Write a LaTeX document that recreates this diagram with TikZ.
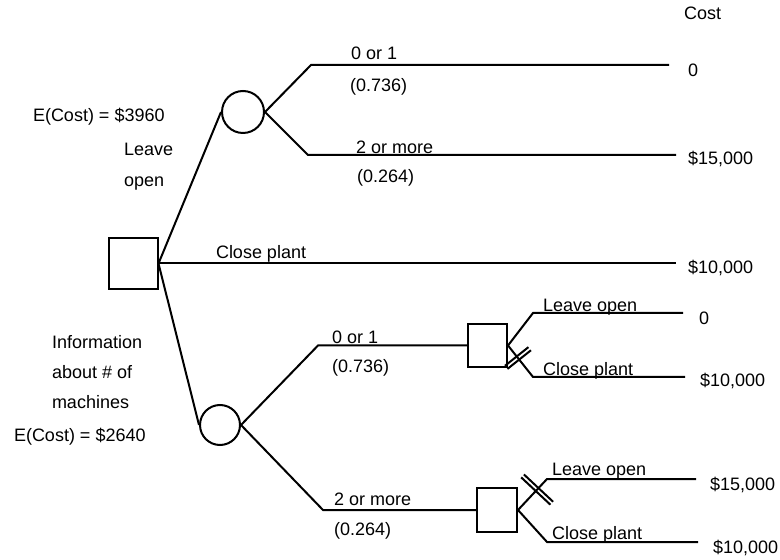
\documentclass[tikz,border=0pt]{standalone}
\usepackage{fontspec}
\setmainfont{Liberation Sans}
\usetikzlibrary{decorations.markings}

\begin{document}
\begin{tikzpicture}[x=0.5pt,y=-0.5pt,line width=1pt,
  txt/.style={anchor=west,inner sep=0pt,font=\fontsize{9}{11}\selectfont,text height=6.5pt,text depth=0pt},
  choice/.style={draw,rectangle,inner sep=0pt},
  chance/.style={draw,circle,inner sep=0pt},
  blocked/.style 2 args={postaction={decorate},decoration={markings,mark=at position #1 with
    {\draw (-1pt,-#2) -- (-1pt,#2) (1pt,-#2) -- (1pt,#2);}}}]
\useasboundingbox (0,0) rectangle (780,560);
% decision and chance nodes
\node[choice,minimum width=24.5pt,minimum height=25.5pt] (d1) at (133,263.5) {};
\node[chance,minimum size=21pt] (c1) at (243,112) {};
\node[chance,minimum size=20pt] (c2) at (220,425) {};
\node[choice,minimum width=19.5pt,minimum height=21.5pt] (d2) at (487.5,345.5) {};
\node[choice,minimum width=20pt,minimum height=22pt] (d3) at (497,510) {};
% bends and line ends
\coordinate (b1) at (311,65);   \coordinate (e1) at (669,65);
\coordinate (b2) at (308,155);  \coordinate (e2) at (676,155);
\coordinate (e3) at (676,263.5);
\coordinate (b3) at (318,345.5);
\coordinate (b4) at (323,510);
\coordinate (b5) at (533,313);  \coordinate (e5) at (683,313);
\coordinate (b6) at (533,377);  \coordinate (e6) at (685,377);
\coordinate (b7) at (547,479);  \coordinate (e7) at (696,479);
\coordinate (b8) at (547,542);  \coordinate (e8) at (698,542);
% branches
\draw (d1.east) -- (c1.west);
\draw (d1.east) -- (e3);
\draw (d1.east) -- (c2.west);
\draw (c1.east) -- (b1) -- (e1);
\draw (c1.east) -- (b2) -- (e2);
\draw (c2.east) -- (b3) -- (d2.west);
\draw (c2.east) -- (b4) -- (d3.west);
\draw (d2.east) -- (b5) -- (e5);
\draw[blocked={8pt}{7.5pt}] (d2.east) -- (b6) -- (e6);
\draw[blocked={14pt}{10pt}] (d3.east) -- (b7) -- (e7);
\draw (d3.east) -- (b8) -- (e8);
% labels
\node[txt] (cost) at (683,13) {Cost};
\node[txt] (v1) at (687,70) {0};
\node[txt] (v2) at (687,158) {\$15,000};
\node[txt] (v3) at (687,267) {\$10,000};
\node[txt] (v5) at (698,318) {0};
\node[txt] (v6) at (699,380) {\$10,000};
\node[txt] (v7) at (709,484) {\$15,000};
\node[txt] (v8) at (712,547) {\$10,000};
\node[txt] (p1) at (350,53) {0 or 1};
\node[txt] (q1) at (349,85) {(0.736)};
\node[txt] (p2) at (355,147) {2 or more};
\node[txt] (q2) at (356,176) {(0.264)};
\node[txt] (p3) at (331,337) {0 or 1};
\node[txt] (q3) at (331,366) {(0.736)};
\node[txt] (p4) at (333,499) {2 or more};
\node[txt] (q4) at (333,529) {(0.264)};
\node[txt] (close) at (215,252) {Close plant};
\node[txt] (ecost1) at (32,115) {E(Cost) = \$3960};
\node[txt] (leave1) at (123,149) {Leave};
\node[txt] (leave2) at (123,180) {open};
\node[txt] (info1) at (51,342) {Information};
\node[txt] (info2) at (51,372) {about \# of};
\node[txt] (info3) at (51,402) {machines};
\node[txt] (ecost2) at (13,435) {E(Cost) = \$2640};
\node[txt] (a5) at (542,305) {Leave open};
\node[txt] (a6) at (542,369) {Close plant};
\node[txt] (a7) at (551,469) {Leave open};
\node[txt] (a8) at (551,533) {Close plant};
\end{tikzpicture}
\end{document}
